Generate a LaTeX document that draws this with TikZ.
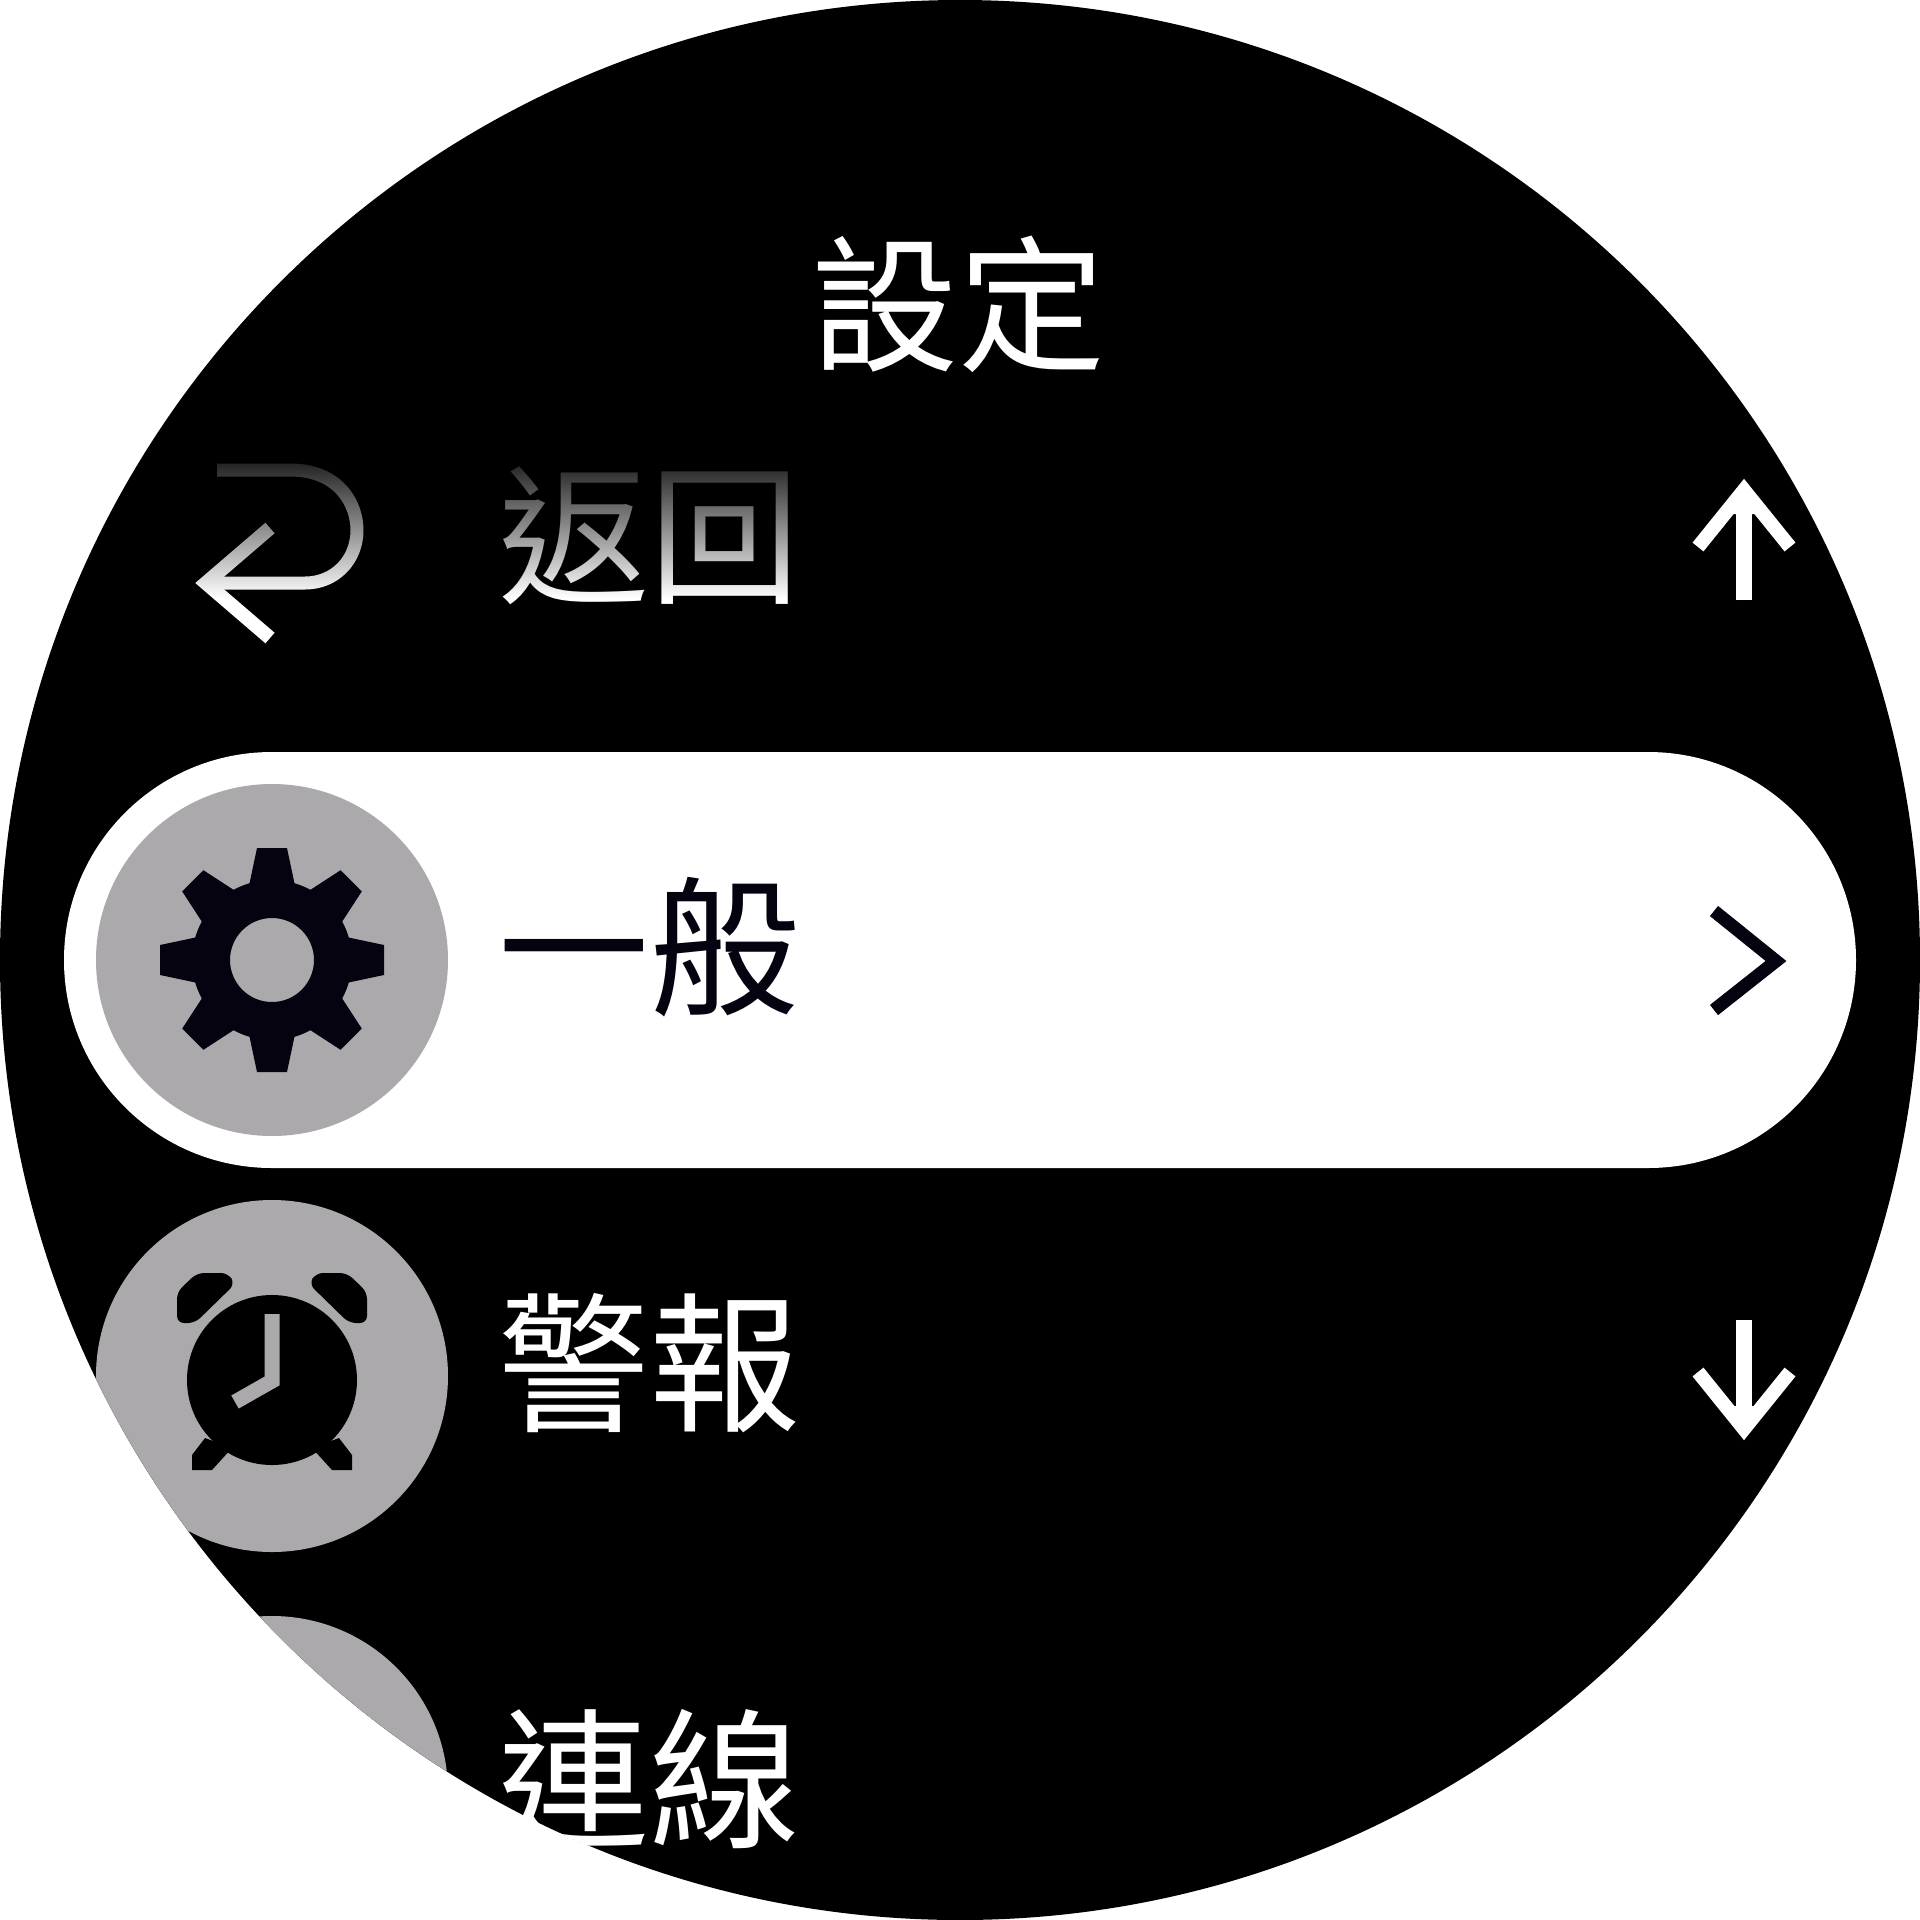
\documentclass[tikz,border=0pt]{standalone}
\usepackage{fontspec}
\usetikzlibrary{fadings}
\newfontfamily\cjk{Noto Sans CJK TC}
\definecolor{chip}{HTML}{ABA9AC}
\definecolor{ink}{HTML}{04030F}
\tikzfading[name=fadeback, top color=transparent!12, bottom color=transparent!100]
\tikzset{
  label/.style={font=\cjk\fontsize{151}{151}\selectfont, inner sep=0pt, anchor=center},
  rowtext/.style={label, text=white},
  titletext/.style={font=\cjk\fontsize{147}{147}\selectfont, inner sep=0pt, anchor=center, text=white},
  chipdisc/.style={circle, fill=chip, minimum size=352pt, inner sep=0pt, draw=none},
  glyphline/.style={line width=16pt, line cap=butt, line join=miter},
  headline/.style={line width=14pt, line cap=butt, line join=miter},
}
\begin{document}
\begin{tikzpicture}[x=1pt,y=-1pt]
\useasboundingbox (0,0) rectangle (1920,1920);
\fill[white] (0,0) rectangle (1920,1920);
\fill[black] (960,960) circle[radius=960];
\begin{scope}
\clip (960,960) circle[radius=960];
% selected row
\fill[white, rounded corners=207.9pt] (64,752) rectangle (1856,1168);
\node[chipdisc] (gearchip) at (272,960) {};
\node[chipdisc] (alarmchip) at (272,1376) {};
\node[chipdisc] (linkchip) at (272,1792) {};
% gear
\fill[ink, even odd rule] (272,960) circle[radius=80] (272,960) circle[radius=42];
\foreach \a in {0,45,...,315}{
  \fill[ink, rotate around={\a:(272,960)}] (246,900) -- (257,848) -- (287,848) -- (298,900) -- cycle;
}
% alarm clock
\fill[black] (272,1380) circle[radius=85];
\fill[black, rounded corners=7pt] (197,1273) -- (228,1273) -- (235,1284) -- (195,1323) -- (177,1323) -- (177,1292) -- cycle;
\fill[black, rounded corners=7pt] (347,1273) -- (316,1273) -- (309,1284) -- (349,1323) -- (367,1323) -- (367,1292) -- cycle;
\fill[black] (192,1470) -- (212,1470) -- (232,1448) -- (205,1438) -- (192,1455) -- cycle;
\fill[black] (352,1470) -- (332,1470) -- (312,1448) -- (339,1438) -- (352,1455) -- cycle;
\draw[chip, line width=15pt] (272,1314) -- (272,1381) -- (235,1402);
% row labels
\node[titletext] (title) at (958,304) {設定};
\node[rowtext] (back) at (649,536) {返回};
\node[label, text=ink] (general) at (649,947) {一般};
\node[rowtext] (alarm) at (649,1363) {警報};
\node[rowtext] (link) at (649,1779) {連線};
% back icon
\draw[white, line width=13pt] (217,470) -- (290,470) .. controls (340,470) and (357,505) .. (357,530) .. controls (357,560) and (335,583) .. (305,583) -- (207,583);
\draw[white, line width=14pt, line join=miter] (270,528) -- (206,583) -- (270,638);
\fill[black, path fading=fadeback] (170,460) rectangle (800,598);
% scroll arrows
\draw[white, glyphline] (1744,600) -- (1744,490);
\fill[white] (1744,482) -- (1720,514) -- (1768,514) -- cycle;
\draw[white, headline] (1698,547) -- (1744,490) -- (1790,547);
\draw[white, glyphline] (1744,1320) -- (1744,1430);
\fill[white] (1744,1438) -- (1720,1406) -- (1768,1406) -- cycle;
\draw[white, headline] (1698,1372) -- (1744,1429) -- (1790,1372);
% chevron
\draw[ink, line width=13pt] (1714,911) -- (1776,961) -- (1714,1010);
\end{scope}
\end{tikzpicture}
\end{document}
